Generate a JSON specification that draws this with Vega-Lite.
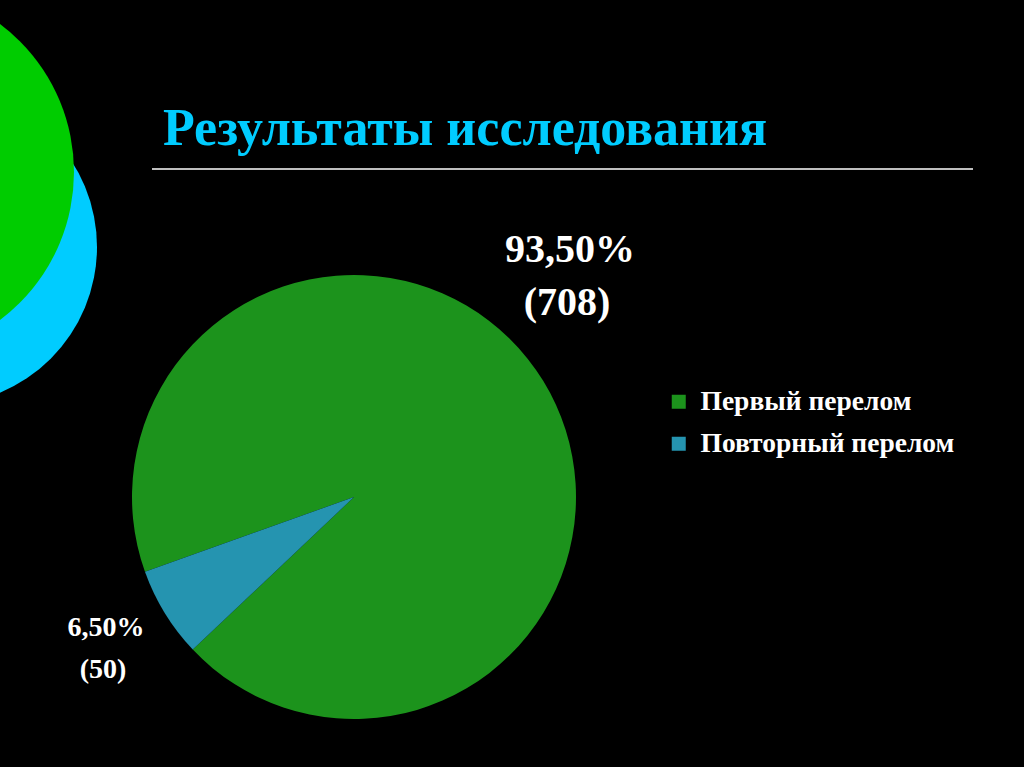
{
  "$schema": "https://vega.github.io/schema/vega-lite/v6.json",
  "autosize": "none",
  "padding": 0,
  "width": 1024,
  "height": 767,
  "background": "#000000",
  "config": {
    "view": {"stroke": null},
    "font": "Liberation Serif"
  },
  "layer": [
    {
      "data": {"values": [{"cx": -61, "cy": 247}]},
      "mark": {"type": "point", "shape": "circle", "filled": true, "size": 99856, "color": "#00CCFF", "opacity": 1, "strokeWidth": 0},
      "encoding": {
        "x": {"field": "cx", "type": "quantitative", "scale": {"domain": [0, 1024], "nice": false, "zero": false}, "axis": null},
        "y": {"field": "cy", "type": "quantitative", "scale": {"domain": [0, 767], "nice": false, "zero": false, "reverse": true}, "axis": null}
      }
    },
    {
      "data": {"values": [{"cx": -111, "cy": 172}]},
      "mark": {"type": "point", "shape": "circle", "filled": true, "size": 136900, "color": "#00CC00", "opacity": 1, "strokeWidth": 0},
      "encoding": {
        "x": {"field": "cx", "type": "quantitative"},
        "y": {"field": "cy", "type": "quantitative"}
      }
    },
    {
      "data": {"values": [{"x": 152, "x2": 973, "y": 169}]},
      "mark": {"type": "rule", "color": "#FFFFFF", "strokeWidth": 1.5},
      "encoding": {
        "x": {"field": "x", "type": "quantitative"},
        "x2": {"field": "x2"},
        "y": {"field": "y", "type": "quantitative"}
      }
    },
    {
      "data": {"values": [{"x": 163, "y": 145, "text": "Результаты исследования"}]},
      "mark": {"type": "text", "align": "left", "baseline": "alphabetic", "font": "Liberation Serif", "fontSize": 52, "fontWeight": "bold", "color": "#00CCFF"},
      "encoding": {
        "x": {"field": "x", "type": "quantitative"},
        "y": {"field": "y", "type": "quantitative"},
        "text": {"field": "text"}
      }
    },
    {
      "data": {
        "values": [
          {"category": "Первый перелом", "count": 708},
          {"category": "Повторный перелом", "count": 50}
        ]
      },
      "mark": {"type": "arc", "outerRadius": 222, "strokeWidth": 0},
      "encoding": {
        "x": {"datum": 354, "type": "quantitative"},
        "y": {"datum": 497, "type": "quantitative"},
        "theta": {"field": "count", "type": "quantitative", "stack": true, "scale": {"range": [4.369, 10.652]}},
        "color": {
          "field": "category",
          "type": "nominal",
          "scale": {"domain": ["Первый перелом", "Повторный перелом"], "range": ["#1c931c", "#2594b0"]},
          "legend": {
            "orient": "none",
            "legendX": 665,
            "legendY": 388,
            "title": null,
            "symbolType": "square",
            "symbolSize": 196,
            "symbolStrokeWidth": 0,
            "symbolOpacity": 1,
            "labelFont": "Liberation Serif",
            "labelFontSize": 27.5,
            "labelFontWeight": "bold",
            "labelColor": "#FFFFFF",
            "labelOffset": 8,
            "rowPadding": 13,
            "labelLimit": 400
          }
        }
      }
    },
    {
      "data": {
        "values": [
          {"x": 570, "y": 262, "text": "93,50%"},
          {"x": 567, "y": 315, "text": "(708)"}
        ]
      },
      "mark": {"type": "text", "align": "center", "baseline": "alphabetic", "font": "Liberation Serif", "fontSize": 40, "fontWeight": "bold", "color": "#FFFFFF"},
      "encoding": {
        "x": {"field": "x", "type": "quantitative"},
        "y": {"field": "y", "type": "quantitative"},
        "text": {"field": "text"}
      }
    },
    {
      "data": {
        "values": [
          {"x": 106, "y": 636, "text": "6,50%"},
          {"x": 103, "y": 678, "text": "(50)"}
        ]
      },
      "mark": {"type": "text", "align": "center", "baseline": "alphabetic", "font": "Liberation Serif", "fontSize": 28, "fontWeight": "bold", "color": "#FFFFFF"},
      "encoding": {
        "x": {"field": "x", "type": "quantitative"},
        "y": {"field": "y", "type": "quantitative"},
        "text": {"field": "text"}
      }
    }
  ]
}
